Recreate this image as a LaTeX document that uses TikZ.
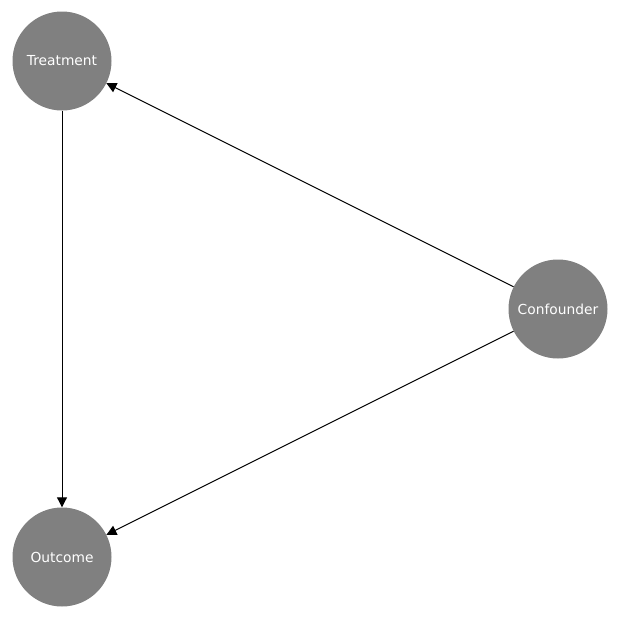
\documentclass[tikz,border=0pt]{standalone}
\usepackage{fontspec}
\setmainfont{DejaVu Sans}
\usetikzlibrary{arrows.meta}
\begin{document}
\begin{tikzpicture}[x=1pt,y=1pt,
  vnode/.style={circle,fill={rgb,255:red,128;green,128;blue,128},minimum size=99pt,inner sep=0pt,text=white,font=\fontsize{13.8}{16}\selectfont},
  edge/.style={-{Triangle[length=10pt,width=10pt]},line width=1pt}]
\useasboundingbox (0,0) rectangle (619,-619);
\node[vnode] (t) at (62,-61) {Treatment};
\node[vnode] (c) at (558,-309) {Confounder};
\node[vnode] (o) at (62,-557) {Outcome};
\draw[edge] (t) -- (o);
\draw[edge] (c) -- (t);
\draw[edge] (c) -- (o);
\end{tikzpicture}
\end{document}
